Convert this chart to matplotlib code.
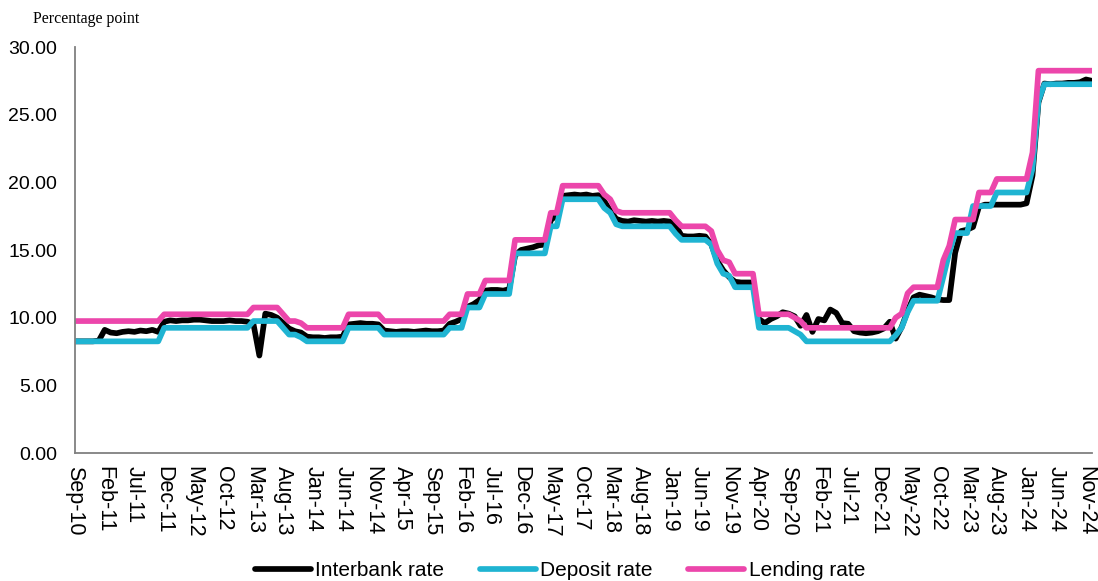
import matplotlib.pyplot as plt
import pandas as pd

# monthly series, Sep-10 .. Dec-24 (172 months)
months = pd.date_range('2010-09-01', periods=172, freq='MS').strftime('%b-%y').tolist()

interbank = (
    [8.25, 8.25, 8.25, 8.25]
    + [8.3, 9.1, 8.9, 8.85, 8.95, 9.0, 8.95, 9.05, 9.0, 9.1, 8.95, 9.7]
    + [9.8, 9.75, 9.8, 9.8, 9.85, 9.85, 9.8, 9.75, 9.75, 9.75, 9.8, 9.75]
    + [9.75, 9.7, 9.55, 7.2, 10.3, 10.2, 10.0, 9.6, 9.2, 9.0, 8.9, 8.6]
    + [8.55, 8.55, 8.5, 8.55, 8.55, 8.6, 9.5, 9.55, 9.6, 9.55, 9.55, 9.5]
    + [9.05, 9.0, 8.95, 9.0, 9.0, 8.95, 9.0, 9.05, 9.0, 9.0, 9.05, 9.55]
    + [9.7, 9.9, 10.8, 11.0, 11.3, 12.0, 12.05, 12.05, 12.0, 12.1, 14.6, 15.0]
    + [15.1, 15.2, 15.35, 15.4, 17.2, 17.6, 19.0, 19.05, 19.1, 19.05, 19.1, 19.0]
    + [19.05, 18.6, 17.9, 17.3, 17.15, 17.1, 17.2, 17.15, 17.1, 17.15, 17.1, 17.15]
    + [17.1, 16.8, 16.05, 16.0, 16.0, 16.05, 16.0, 15.4, 14.2, 13.5, 13.0, 12.65]
    + [12.6, 12.6, 12.6, 9.9, 9.6, 9.9, 10.1, 10.4, 10.3, 10.1, 9.4, 10.2]
    + [8.95, 9.9, 9.8, 10.6, 10.35, 9.6, 9.55, 9.0, 8.9, 8.85, 8.9, 9.0]
    + [9.2, 9.7, 8.45, 9.3, 10.5, 11.5, 11.7, 11.6, 11.5, 11.35, 11.3, 11.3]
    + [14.8, 16.4, 16.5, 16.7, 18.2, 18.35, 18.35, 18.35, 18.35, 18.35, 18.35, 18.35]
    + [18.45, 20.5, 25.9, 27.3, 27.25, 27.3, 27.3, 27.35, 27.35, 27.4, 27.6, 27.5]
)

deposit = (
    [8.25] * 4
    + [8.25] * 11 + [9.25]
    + [9.25] * 12
    + [9.25, 9.25, 9.75, 9.75, 9.75, 9.75, 9.75, 9.25, 8.75, 8.75, 8.55, 8.25]
    + [8.25] * 6 + [9.25] * 6
    + [8.75] * 11 + [9.25]
    + [9.25, 9.25, 10.75, 10.75, 10.75, 11.75, 11.75, 11.75, 11.75, 11.75, 14.75, 14.75]
    + [14.75] * 4 + [16.75, 16.75] + [18.75] * 6
    + [18.75, 18.1, 17.75, 16.9] + [16.75] * 8
    + [16.75, 16.2, 15.75, 15.75, 15.75, 15.75, 15.75, 15.4, 14.0, 13.25, 13.1, 12.25]
    + [12.25] * 3 + [9.25] * 6 + [9.0, 8.75, 8.25]
    + [8.25] * 12
    + [8.25, 8.25, 8.7, 9.25, 10.4, 11.25, 11.25, 11.25, 11.25, 11.25, 13.0, 14.8]
    + [16.25, 16.25, 16.25, 18.25, 18.25, 18.25, 18.25] + [19.25] * 5
    + [19.25, 21.0, 26.0] + [27.25] * 9
)

lending = (
    [9.75] * 4
    + [9.75] * 11 + [10.25]
    + [10.25] * 12
    + [10.25, 10.25, 10.75, 10.75, 10.75, 10.75, 10.75, 10.25, 9.75, 9.75, 9.6, 9.25]
    + [9.25] * 6 + [10.25] * 6
    + [9.75] * 11 + [10.25]
    + [10.25, 10.25, 11.75, 11.75, 11.75, 12.75, 12.75, 12.75, 12.75, 12.75, 15.75, 15.75]
    + [15.75] * 4 + [17.75, 17.75] + [19.75] * 6
    + [19.75, 19.1, 18.75, 17.9] + [17.75] * 8
    + [17.75, 17.2, 16.75, 16.75, 16.75, 16.75, 16.75, 16.4, 15.0, 14.25, 14.1, 13.25]
    + [13.25] * 3 + [10.25] * 6 + [10.0, 9.75, 9.25]
    + [9.25] * 12
    + [9.25, 9.25, 10.0, 10.3, 11.8, 12.25, 12.25, 12.25, 12.25, 12.25, 14.25, 15.3]
    + [17.25, 17.25, 17.25, 17.25, 19.25, 19.25, 19.25] + [20.25] * 5
    + [20.25, 22.2] + [28.25] * 10
)

sans = ['Liberation Sans', 'DejaVu Sans']

fig = plt.figure(figsize=(10.98, 5.81), dpi=100)
ax = fig.add_axes([0.0683, 0.2203, 0.9262, 0.6988])

x = list(range(len(months)))
style = dict(lw=4.1, solid_joinstyle='round', solid_capstyle='round')
ax.plot(x, interbank, color='black', label='Interbank rate', **style)
ax.plot(x, deposit, color='#1fb4d2', label='Deposit rate', **style)
ax.plot(x, lending, color='#ec46ab', label='Lending rate', **style)

ax.set_xlim(0, len(months) - 1)
ax.set_ylim(0, 30)
ax.set_yticks(range(0, 31, 5))
ax.set_yticklabels([f'{v:.2f}' for v in range(0, 31, 5)], family=sans, fontsize=14)
ax.set_xticks(x[::5])
ax.set_xticklabels(months[::5], rotation=270, family=sans, fontsize=15.5)
ax.tick_params(axis='y', length=0, pad=13)
ax.tick_params(axis='x', length=0, pad=9)

for side in ['top', 'right']:
    ax.spines[side].set_visible(False)
for side in ['left', 'bottom']:
    ax.spines[side].set_color('#808080')
    ax.spines[side].set_linewidth(1.3)

fig.text(33 / 1098, 1 - 23 / 581, 'Percentage point', family='Liberation Serif',
         fontsize=11.5, va='baseline')

fig.legend(loc='center', bbox_to_anchor=(0.51, 0.018), ncol=3, frameon=False,
           prop={'family': sans, 'size': 15}, handlelength=2.7, handletextpad=0.2,
           columnspacing=1.7, borderpad=0)

fig.savefig('out.png', dpi=100)
